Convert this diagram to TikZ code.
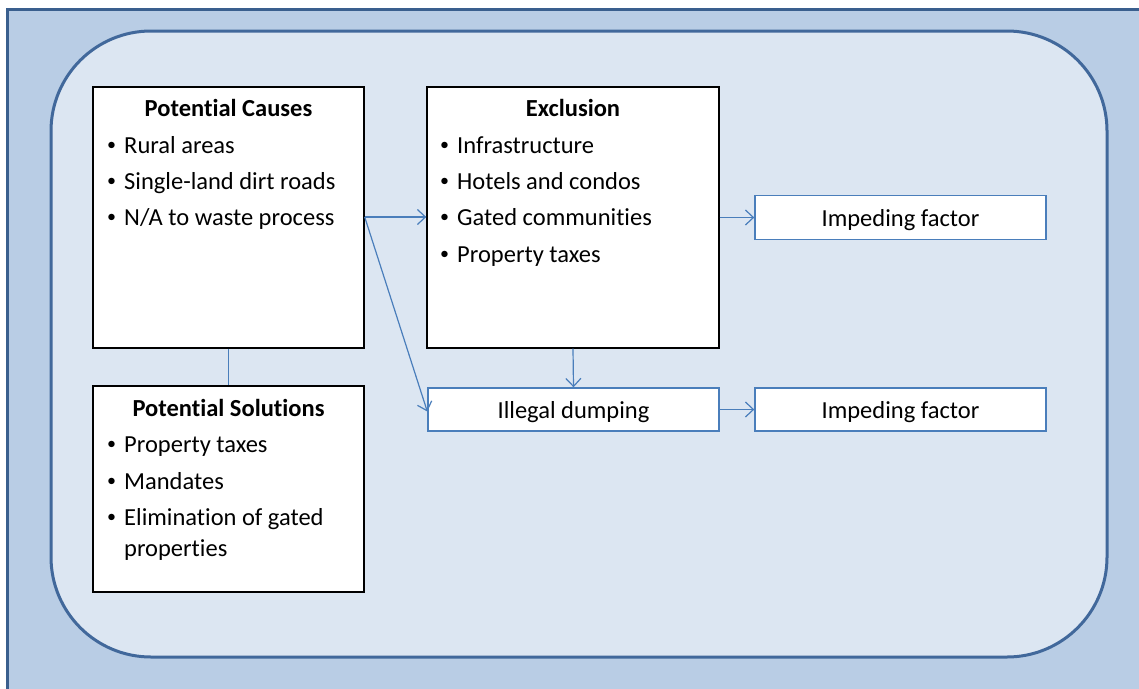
\documentclass[tikz,border=0pt]{standalone}
\usepackage{fontspec}
\setmainfont{Carlito}[Ligatures={NoCommon}]
\usetikzlibrary{arrows.meta}
\definecolor{frameFill}{HTML}{B9CDE5}
\definecolor{frameLine}{HTML}{3A5F8E}
\definecolor{panelFill}{HTML}{DCE6F2}
\definecolor{panelLine}{HTML}{41689B}
\definecolor{linkBlue}{HTML}{4A7EBB}
\newcommand{\txtsize}{\fontsize{24.5}{29}\selectfont}
\tikzset{
  blackbox/.style={draw=black, line width=1.4pt, fill=white},
  bluebox/.style={draw=linkBlue, line width=1.4pt, fill=white, font=\txtsize, text depth=0pt},
  head/.style={font=\txtsize\bfseries, anchor=base},
  item/.style={font=\txtsize, anchor=base west, inner sep=0pt},
  dot/.style={font=\fontsize{18}{20}\selectfont, anchor=base west, inner sep=0pt, yshift=2.5pt},
  link/.style={draw=linkBlue, line width=1.2pt},
  arr/.style={link, -{Straight Barb[length=8pt,width=15pt]}}
}
\begin{document}
\begin{tikzpicture}[x=1pt,y=-1pt]
\useasboundingbox (0,0) rectangle (1139,688);
\begin{scope}
\clip (0,0) rectangle (1139,688);
% outer frame
\draw[fill=frameFill, draw=frameLine, line width=2.5pt] (7.5,9.5) rectangle (1160,710);
\end{scope}
% inner rounded panel
\draw[fill=panelFill, draw=panelLine, line width=3pt, rounded corners=100pt] (51,31) rectangle (1107,657);

% boxes
\node[blackbox, minimum width=271pt, minimum height=261pt, inner sep=0pt] (causes) at (228.5,217.5) {};
\node[blackbox, minimum width=271pt, minimum height=206pt, inner sep=0pt] (sol) at (228.5,489) {};
\node[blackbox, minimum width=292pt, minimum height=261pt, inner sep=0pt] (excl) at (573,217.5) {};
\node[bluebox, minimum width=291pt, minimum height=43pt, inner sep=0pt] (dump) at (573.5,409.5) {Illegal dumping};
\node[bluebox, minimum width=291pt, minimum height=44pt, inner sep=0pt] (imp1) at (900.5,217.5) {Impeding factor};
\node[bluebox, minimum width=291pt, minimum height=43pt, inner sep=0pt] (imp2) at (900.5,409.5) {Impeding factor};

% potential causes text
\node[head] (hcause) at (228.5,116) {Potential Causes};
\node[dot] (c1b) at (107,153) {•};
\node[item] (c1) at (124,153) {Rural areas};
\node[dot] (c2b) at (107,189) {•};
\node[item] (c2) at (124,189) {Single-land dirt roads};
\node[dot] (c3b) at (107,225) {•};
\node[item] (c3) at (124,225) {N/A to waste process};

% exclusion text
\node[head] (hexcl) at (573,116) {Exclusion};
\node[dot] (e1b) at (440,153) {•};
\node[item] (e1) at (457,153) {Infrastructure};
\node[dot] (e2b) at (440,189) {•};
\node[item] (e2) at (457,189) {Hotels and condos};
\node[dot] (e3b) at (440,225) {•};
\node[item] (e3) at (457,225) {Gated communities};
\node[dot] (e4b) at (440,262) {•};
\node[item] (e4) at (457,262) {Property taxes};

% potential solutions text
\node[head] (hsol) at (228.5,416) {Potential Solutions};
\node[dot] (s1b) at (107,452) {•};
\node[item] (s1) at (124,452) {Property taxes};
\node[dot] (s2b) at (107,489) {•};
\node[item] (s2) at (124,489) {Mandates};
\node[dot] (s3b) at (107,525) {•};
\node[item] (s3) at (124,525) {Elimination of gated};
\node[item] (s3c) at (124,556) {properties};

% connectors
\coordinate (src) at (causes.east |- 0,217);
\draw[link] (causes.south) -- (sol.north);
\draw[arr] (src) -- (excl.west |- src);
\draw[arr] (src) -- ([yshift=-2pt]dump.west);
\draw[arr] (excl.south) -- (dump.north);
\draw[arr] (excl.east |- imp1.west) -- (imp1.west);
\draw[arr] (dump.east) -- (imp2.west);
\end{tikzpicture}
\end{document}
